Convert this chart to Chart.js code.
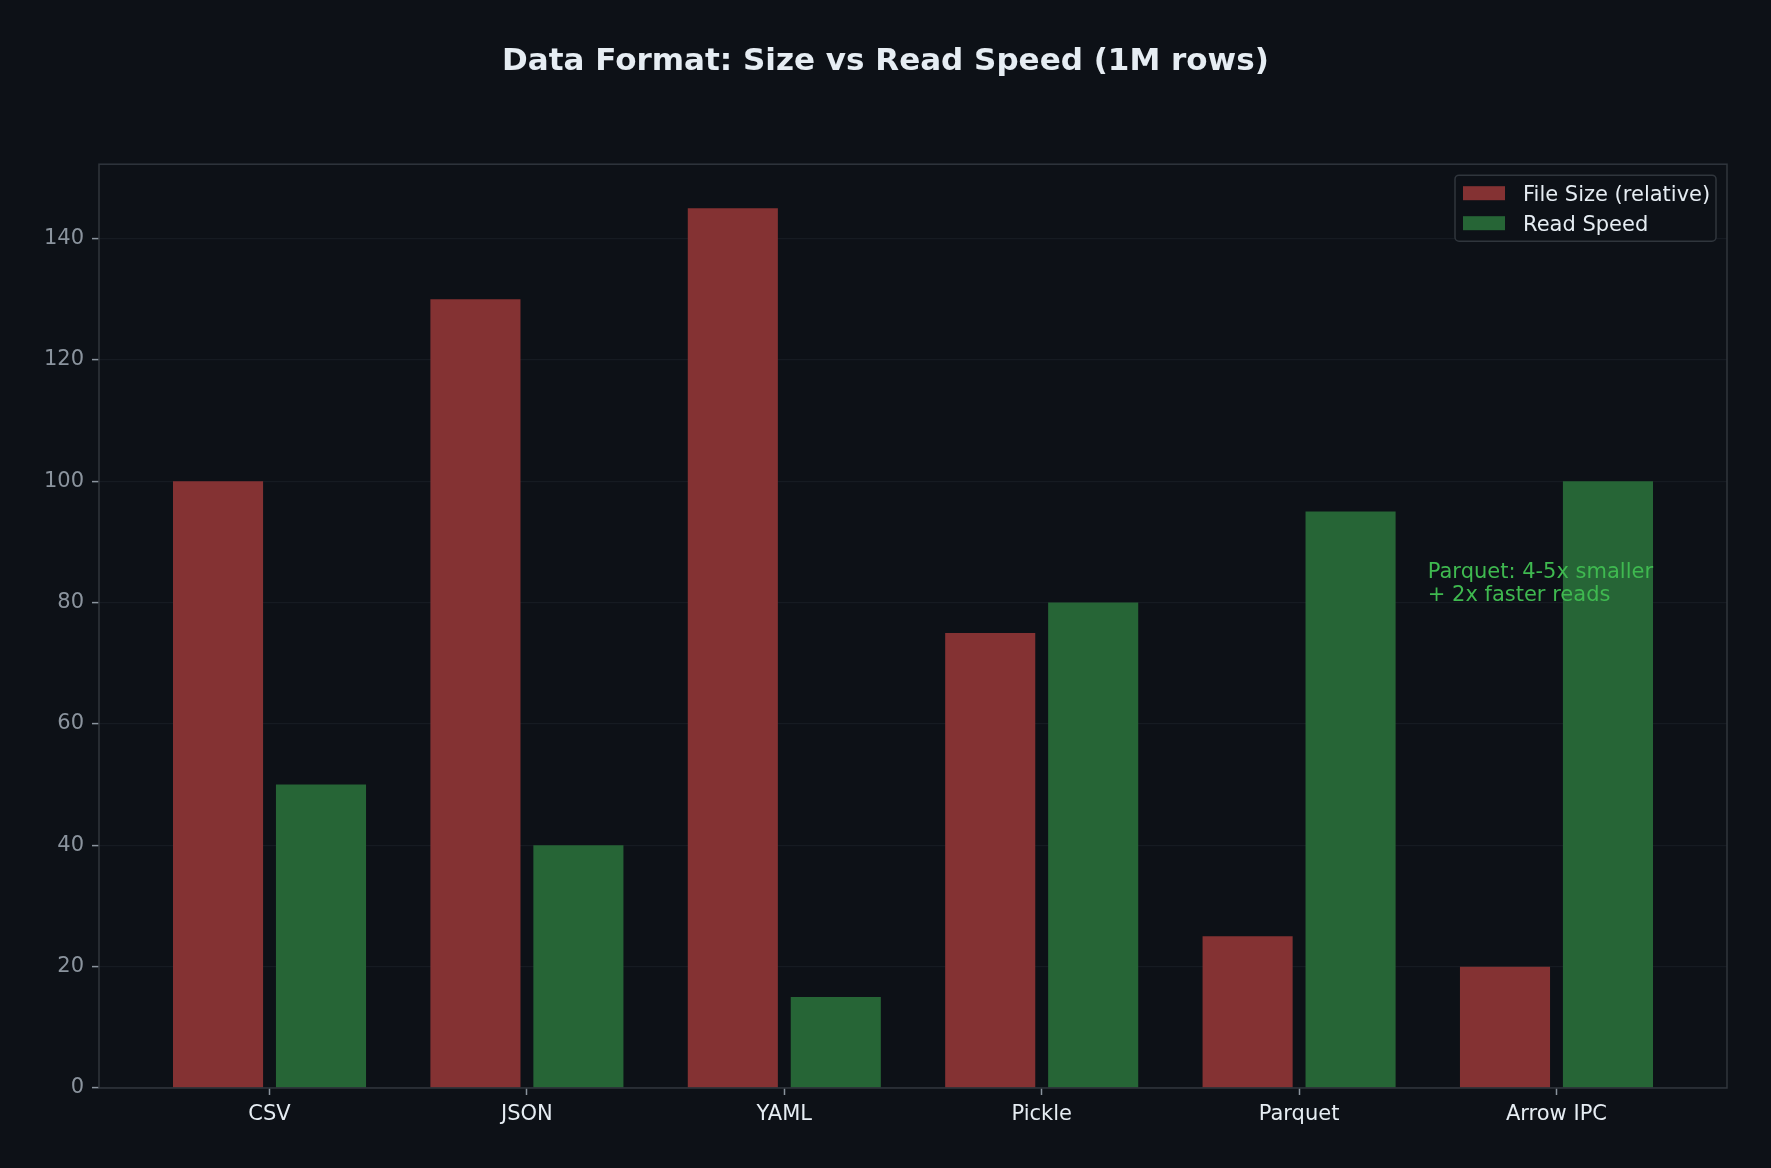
<!DOCTYPE html>
<html>
<head>
<meta charset="utf-8">
<script src="https://cdn.jsdelivr.net/npm/chart.js@4.4.1/dist/chart.umd.min.js"></script>
<style>
    html, body { margin: 0; padding: 0; background: #0d1117; }
    #wrap { width: 1771px; height: 1168px; position: relative; }
</style>
</head>
<body>
<div id="wrap"><canvas id="formatChart"></canvas></div>
<script>
// data
const formats = ['CSV', 'JSON', 'YAML', 'Pickle', 'Parquet', 'Arrow IPC'];
const fileSize = [100, 130, 145, 75, 25, 20];
const readSpeed = [50, 40, 15, 80, 95, 100];
const yTicks = [0, 20, 40, 60, 80, 100, 120, 140];
const noteLines = ['Parquet: 4-5x smaller', '+ 2x faster reads'];
const noteAt = { x: 4.5, y: 83 };

const FONT = "'DejaVu Sans', sans-serif";
const BG = '#0d1117';
const SPINE = '#30363d';
const GRID = '#161b22';
const MUTED = '#8b949e';
const TEXT = '#e6edf3';

// frame + legend + annotation, drawn after the bars
const overlayPlugin = {
    id: 'overlay',
    afterDatasetsDraw(chart) {
        const { ctx, chartArea: a, scales } = chart;
        ctx.save();

        // spines
        ctx.strokeStyle = SPINE;
        ctx.lineWidth = 1.5;
        ctx.strokeRect(a.left, a.top, a.right - a.left, a.bottom - a.top);

        // annotation
        ctx.font = '21px ' + FONT;
        ctx.fillStyle = '#3fb950';
        ctx.textBaseline = 'middle';
        ctx.textAlign = 'left';
        const nx = scales.x.getPixelForValue(noteAt.x);
        const ny = scales.y.getPixelForValue(noteAt.y);
        noteLines.forEach((line, i) => {
            ctx.fillText(line, nx, ny + (i - 0.5) * 23);
        });

        // legend
        const boxW = 261, boxH = 66;
        const bx = a.right - 11 - boxW, by = a.top + 11;
        ctx.beginPath();
        ctx.roundRect(bx, by, boxW, boxH, 4);
        ctx.fillStyle = BG;
        ctx.fill();
        ctx.strokeStyle = SPINE;
        ctx.lineWidth = 1.5;
        ctx.stroke();
        chart.data.datasets.forEach((ds, i) => {
            const rowY = by + 18 + i * 30;
            ctx.fillStyle = ds.backgroundColor;
            ctx.fillRect(bx + 8, rowY - 7, 42, 14);
            ctx.fillStyle = TEXT;
            ctx.fillText(ds.label, bx + 68, rowY + 2);
        });

        ctx.restore();
    }
};

const ctx = document.getElementById('formatChart').getContext('2d');
new Chart(ctx, {
    type: 'bar',
    data: {
        datasets: [
            {
                label: 'File Size (relative)',
                data: formats.map((f, i) => ({ x: i - 0.2, y: fileSize[i] })),
                backgroundColor: '#843233',
                grouped: false,
                categoryPercentage: 1,
                barPercentage: 0.875
            },
            {
                label: 'Read Speed',
                data: formats.map((f, i) => ({ x: i + 0.2, y: readSpeed[i] })),
                backgroundColor: '#266536',
                grouped: false,
                categoryPercentage: 1,
                barPercentage: 0.875
            }
        ]
    },
    options: {
        responsive: true,
        maintainAspectRatio: false,
        animation: false,
        layout: { padding: 0 },
        plugins: {
            legend: { display: false },
            tooltip: { enabled: false },
            title: {
                display: true,
                text: 'Data Format: Size vs Read Speed (1M rows)',
                color: TEXT,
                font: { family: FONT, size: 31, weight: 'bold', lineHeight: 1.2 },
                padding: { top: 43, bottom: 84 }
            }
        },
        scales: {
            x: {
                type: 'linear',
                offset: false,
                min: -0.6625,
                max: 5.6625,
                afterBuildTicks: s => { s.ticks = formats.map((f, i) => ({ value: i })); },
                afterFit: s => { s.height = 80; },
                ticks: {
                    color: TEXT,
                    font: { family: FONT, size: 21 },
                    padding: 7,
                    autoSkip: false,
                    maxRotation: 0,
                    callback: v => formats[v]
                },
                grid: { offset: false, drawOnChartArea: false, drawTicks: true, tickLength: 7, tickColor: MUTED, tickWidth: 1.5 },
                border: { display: false }
            },
            y: {
                min: 0,
                max: 152.25,
                afterBuildTicks: s => { s.ticks = yTicks.map(v => ({ value: v })); },
                afterFit: s => { s.width = 99; },
                ticks: {
                    color: MUTED,
                    font: { family: FONT, size: 21 },
                    padding: 8
                },
                grid: { color: GRID, lineWidth: 1.2, tickLength: 7, tickColor: MUTED, tickWidth: 1.5 },
                border: { display: false }
            },
            // empty right margin so the title stays centred on the figure
            yRight: {
                position: 'right',
                afterFit: s => { s.width = 44; },
                ticks: { display: false },
                grid: { display: false },
                border: { display: false }
            }
        }
    },
    plugins: [overlayPlugin]
});
</script>
</body>
</html>
